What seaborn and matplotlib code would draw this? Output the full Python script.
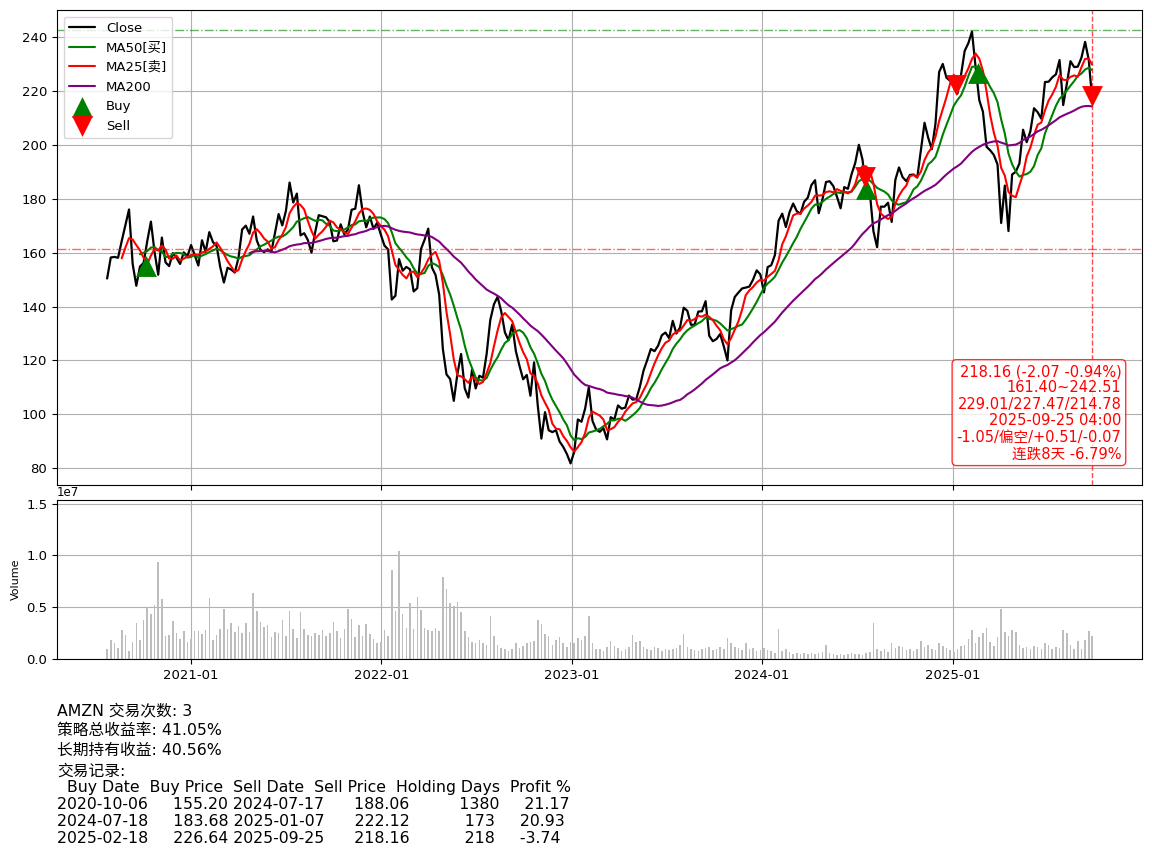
import numpy as np
import pandas as pd
import matplotlib
matplotlib.use("Agg")
import matplotlib.pyplot as plt
import matplotlib.dates as mdates
import seaborn as sns

# ---------------- data (weekly closes) ----------------
close_2020 = [150.4, 158.2, 158.4, 158.1, 164.3, 170.1, 176.0, 155.8, 147.7, 154.8,
              156.2, 164.3, 171.5, 160.2, 151.8, 165.6, 156.4, 155.0, 159.8, 158.1,
              155.8, 160.1, 158.6]
close_2021 = [162.8, 159.1, 155.2, 164.6, 160.3, 167.6, 163.9, 162.5, 154.6, 148.9,
              154.4, 153.7, 152.6, 158.1, 168.6, 170.0, 167.0, 173.4, 164.6, 161.1,
              160.2, 161.2, 160.3, 167.3, 174.3, 170.1, 175.5, 186.0, 178.6, 181.9,
              166.4, 167.2, 164.7, 160.0, 167.5, 173.9, 173.5, 173.1, 171.3, 164.2,
              164.5, 170.5, 166.8, 168.6, 175.9, 176.3, 185.0, 175.2, 169.4, 173.4,
              168.8, 171.1, 166.7]
close_2022 = [162.6, 161.2, 142.6, 144.0, 157.6, 153.3, 154.7, 153.8, 145.6, 146.8,
              161.3, 164.8, 168.9, 154.5, 151.7, 144.4, 124.3, 114.8, 113.1, 105.0,
              115.1, 122.4, 109.65, 106.2, 116.5, 109.6, 114.3, 113.6, 122.4, 135.0,
              140.8, 143.6, 138.2, 130.4, 127.5, 133.3, 123.5, 118.0, 113.0, 114.6,
              106.9, 119.3, 103.4, 91.0, 100.8, 94.1, 93.4, 94.1, 89.9, 87.9,
              85.25, 81.8]
close_2023 = [86.1, 98.1, 97.25, 102.2, 110.0, 97.6, 94.35, 93.5, 94.9, 90.7,
              98.95, 98.1, 103.3, 102.1, 102.5, 106.96, 105.45, 105.66, 110.26, 116.25,
              120.11, 124.25, 123.43, 125.49, 129.33, 130.36, 128.25, 134.68, 130.0, 132.21,
              139.57, 138.41, 133.22, 133.26, 138.12, 138.23, 142.0, 129.12, 127.12, 127.96,
              129.79, 125.17, 120.0, 138.6, 143.56, 145.18, 146.7, 147.03, 147.42, 149.97,
              153.42, 151.94]
close_2024 = [145.24, 154.62, 155.34, 159.12, 171.81, 174.45, 169.51, 174.99, 178.22, 175.35,
              174.42, 178.87, 180.38, 185.07, 186.87, 174.63, 179.62, 186.21, 186.48, 184.70,
              180.75, 176.44, 184.30, 183.66, 189.08, 193.25, 200.00, 194.49, 183.13, 182.50,
              167.90, 162.0, 177.06, 177.04, 178.50, 171.39, 187.00, 191.60, 187.97, 186.51,
              188.82, 188.99, 187.83, 197.93, 208.18, 202.61, 198.38, 207.89, 227.03, 230.0,
              224.92, 223.75]
close_2025 = [224.19, 218.94, 225.94, 234.85, 237.68, 242.0, 228.68, 216.58, 212.28, 199.25,
              197.95, 196.21, 192.72, 171.00, 184.87, 168.0, 188.99, 189.98, 193.06, 205.59,
              200.99, 205.01, 213.57, 212.10, 209.69, 223.30, 223.41, 225.02, 226.13, 231.44,
              214.75, 222.69, 231.03, 228.84, 229.00, 232.33, 238.2, 231.5, 218.16]

# weekly volume (millions of shares)
vol_2020 = [1.0, 1.8, 1.5, 1.1, 2.8, 2.3, 0.8, 1.6, 3.5, 1.8, 3.8, 5.0, 4.3, 5.2, 9.4,
            5.8, 2.2, 2.3, 3.7, 2.5, 1.9, 2.7, 1.6]
vol_2021 = [1.9, 2.7, 2.7, 2.4, 2.8, 5.9, 1.8, 2.3, 2.9, 4.8, 2.9, 3.5, 2.6, 3.2, 2.5,
            3.5, 2.6, 6.4, 4.6, 3.6, 3.1, 3.3, 2.1, 2.6, 2.5, 3.8, 2.2, 4.6, 2.9, 2.0,
            4.5, 2.9, 2.3, 2.2, 2.5, 2.3, 2.8, 2.2, 2.5, 3.6, 2.7, 2.0, 2.9, 4.8, 3.9,
            2.1, 3.3, 2.2, 3.4, 2.4, 1.9, 1.5, 1.6]
vol_2022 = [2.8, 2.2, 8.6, 4.6, 10.4, 4.3, 3.0, 5.4, 2.9, 6.0, 4.7, 3.0, 2.8, 2.7, 3.0,
            2.7, 7.9, 6.8, 5.4, 5.1, 5.5, 4.5, 2.7, 2.1, 1.6, 1.5, 1.8, 1.5, 1.4, 4.2,
            2.2, 1.4, 1.1, 1.0, 0.8, 1.0, 1.5, 1.1, 1.3, 1.5, 1.6, 1.7, 3.8, 3.4, 2.4,
            2.2, 1.4, 1.8, 2.1, 1.5, 1.2, 1.6]
vol_2023 = [1.5, 2.0, 1.8, 2.2, 4.2, 1.5, 1.0, 1.0, 0.8, 1.2, 1.7, 1.3, 1.1, 0.8, 1.0,
            1.2, 2.3, 1.6, 1.7, 1.2, 1.0, 0.9, 1.2, 1.1, 0.8, 1.0, 0.9, 1.0, 1.1, 1.4,
            2.4, 1.2, 1.0, 0.9, 0.8, 1.0, 1.1, 1.2, 0.9, 1.0, 1.2, 1.0, 2.0, 1.5, 1.2,
            1.1, 0.9, 1.5, 1.0, 1.1, 0.8, 0.9]
vol_2024 = [1.1, 0.9, 0.8, 0.6, 2.9, 0.8, 1.0, 0.7, 0.5, 0.6, 0.5, 0.6, 0.5, 0.6, 0.5,
            0.6, 0.7, 1.4, 0.6, 0.5, 0.4, 0.5, 0.4, 0.5, 0.6, 0.5, 0.5, 0.4, 0.6, 0.7,
            3.5, 1.0, 0.8, 1.0, 0.7, 1.5, 1.1, 1.3, 1.2, 0.9, 1.0, 0.8, 1.0, 1.7, 1.2,
            1.4, 1.0, 0.9, 1.5, 1.3, 1.1, 0.9]
vol_2025 = [0.7, 1.0, 1.3, 1.4, 1.9, 2.8, 1.5, 2.1, 2.5, 3.0, 1.6, 1.3, 2.1, 4.8, 2.6,
            2.2, 2.8, 2.6, 1.4, 1.1, 1.2, 1.0, 1.3, 1.2, 1.0, 1.5, 1.4, 1.0, 1.2, 1.1,
            2.8, 2.5, 1.4, 1.0, 1.7, 1.0, 1.8, 2.7, 2.2]

first_week = "2020-07-24"
last_full_week = "2025-09-19"
last_date = "2025-09-25"

# trade records
buy_dates = ["2020-10-06", "2024-07-18", "2025-02-18"]
buy_prices = [155.20, 183.68, 226.64]
sell_dates = ["2024-07-17", "2025-01-07", "2025-09-25"]
sell_prices = [188.06, 222.12, 218.16]
holding_days = [1380, 173, 218]
profit_pct = [21.17, 20.93, -3.74]

range_low = 161.40
range_high = 242.51

info_lines = ["218.16 (-2.07 -0.94%)", "161.40~242.51", "229.01/227.47/214.78",
              "2025-09-25 04:00", "-1.05/偏空/+0.51/-0.07", "连跌8天 -6.79%"]
summary_lines = ["AMZN 交易次数: 3", "策略总收益率: 41.05%", "长期持有收益: 40.56%", "交易记录:"]

# ---------------- build frame ----------------
close = close_2020 + close_2021 + close_2022 + close_2023 + close_2024 + close_2025
volume = [v * 1e6 for v in (vol_2020 + vol_2021 + vol_2022 + vol_2023 + vol_2024 + vol_2025)]
dates = pd.date_range(first_week, last_full_week, freq="W-FRI").append(pd.DatetimeIndex([last_date]))

df = pd.DataFrame({"Date": dates, "Close": close, "Volume": volume})
df["MA25"] = df["Close"].rolling(5).mean()
df["MA50"] = df["Close"].rolling(10).mean()
df["MA200"] = df["Close"].rolling(40).mean()

trades = pd.DataFrame({"Buy Date": buy_dates, "Buy Price": buy_prices,
                       "Sell Date": sell_dates, "Sell Price": sell_prices,
                       "Holding Days": holding_days, "Profit %": profit_pct})

# ---------------- style ----------------
sns.set_style("ticks", {"axes.grid": True, "grid.color": "#b0b0b0", "grid.linestyle": "-",
                        "axes.edgecolor": "black", "xtick.color": "black", "ytick.color": "black",
                        "text.color": "black", "axes.labelcolor": "black"})
plt.rcParams["font.family"] = ["DejaVu Sans", "Noto Sans CJK SC"]
plt.rcParams["axes.unicode_minus"] = False

fig = plt.figure(figsize=(11.52, 8.57), dpi=100)
ax = fig.add_axes([0.0495, 0.4341, 0.9418, 0.5542])
ax2 = fig.add_axes([0.0495, 0.2310, 0.9418, 0.1856], sharex=ax)

sns.lineplot(data=df, x="Date", y="Close", ax=ax, color="black", lw=1.6, label="Close")
sns.lineplot(data=df, x="Date", y="MA50", ax=ax, color="green", lw=1.5, label="MA50[买]")
sns.lineplot(data=df, x="Date", y="MA25", ax=ax, color="red", lw=1.5, label="MA25[卖]")
sns.lineplot(data=df, x="Date", y="MA200", ax=ax, color="purple", lw=1.5, label="MA200")
sns.scatterplot(x=pd.to_datetime(buy_dates), y=buy_prices, ax=ax, marker="^", s=225,
                color="green", linewidth=0, label="Buy", zorder=5)
sns.scatterplot(x=pd.to_datetime(sell_dates), y=sell_prices, ax=ax, marker="v", s=225,
                color="red", linewidth=0, label="Sell", zorder=5)

ax.axhline(range_high, color="green", ls="-.", lw=1, alpha=0.6)
ax.axhline(range_low, color="red", ls="-.", lw=1, alpha=0.6)
ax.axvline(pd.Timestamp(last_date), color="red", ls="--", lw=1, alpha=0.7)

ax.legend(loc="upper left", fontsize=9.5)
ax.set_xlabel("")
ax.set_ylabel("")
ax.tick_params(axis="x", labelbottom=False)
ax.tick_params(labelsize=9.5, length=3.5, width=0.8)

ax.text(0.981, 0.05, "\n".join(info_lines), transform=ax.transAxes, ha="right", va="bottom",
        multialignment="right", fontsize=10.5, color="red", linespacing=1.12,
        bbox=dict(boxstyle="round,pad=0.3", facecolor="white", edgecolor="red", alpha=0.8))

ax2.bar(df["Date"], df["Volume"], width=3.0, color="#bdbdbd", linewidth=0)
ax2.set_ylim(0, 1.535e7)
ax2.set_ylabel("Volume", fontsize=8)
ax2.set_xlabel("")
ax2.tick_params(labelsize=9.5, length=3.5, width=0.8)
ax2.yaxis.get_offset_text().set_fontsize(8.5)
ax2.xaxis.set_major_locator(mdates.YearLocator())
ax2.xaxis.set_major_formatter(mdates.DateFormatter("%Y-%m"))

for a in (ax, ax2):
    for s in a.spines.values():
        s.set_visible(True)
        s.set_color("black")
        s.set_linewidth(0.8)

fig.text(0.0495, 0.1797, "\n".join(summary_lines), fontsize=11.3, ha="left", va="top",
         linespacing=1.43)
fig.text(0.0495, 0.0898, trades.to_string(index=False), fontsize=11.3, ha="left", va="top",
         linespacing=1.16)

fig.savefig("out.png", dpi=100)
